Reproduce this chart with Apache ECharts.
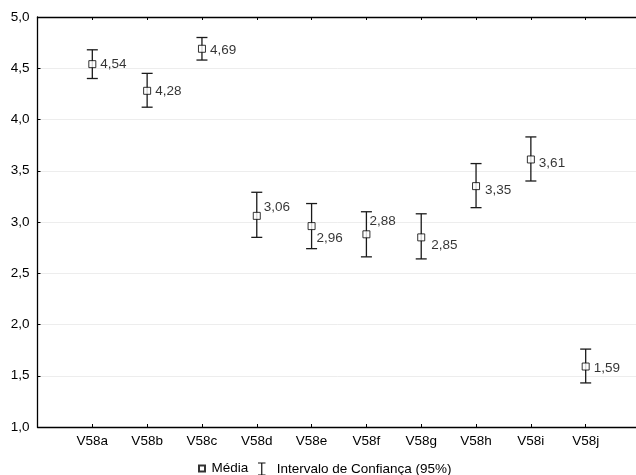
<!DOCTYPE html>
<html>
<head>
<meta charset="utf-8">
<script src="https://cdn.jsdelivr.net/npm/echarts@6/dist/echarts.min.js"></script>
<style>html,body{margin:0;padding:0;background:#fff}#c{width:636px;height:475px}</style>
</head>
<body>
<div id="c"></div>
<script>
// ---- data ----
const categories = ['V58a','V58b','V58c','V58d','V58e','V58f','V58g','V58h','V58i','V58j'];
const means      = [4.54, 4.28, 4.69, 3.06, 2.96, 2.88, 2.85, 3.35, 3.61, 1.59];
const ciLow      = [4.40, 4.12, 4.58, 2.85, 2.74, 2.66, 2.64, 3.14, 3.40, 1.43];
const ciHigh     = [4.68, 4.45, 4.80, 3.29, 3.18, 3.10, 3.08, 3.57, 3.83, 1.76];
const yTicks     = [1.0, 1.5, 2.0, 2.5, 3.0, 3.5, 4.0, 4.5, 5.0];
const seriesNames = ['Média', 'Intervalo de Confiança (95%)'];

// ---- layout (label nudges, px) ----
const labelNudge = [[0,0],[0,0],[0,2],[-1,-9],[-3,12],[-5,-13],[2,8],[1,4],[0,4],[0,2]];

const FONT = 'Arial, "Liberation Sans", sans-serif';
const FS = 13.5;
const fmt1 = v => v.toFixed(1).replace('.', ',');
const fmt2 = v => v.toFixed(2).replace('.', ',');
const axisCats = [''].concat(categories, ['']);

const chart = echarts.init(document.getElementById('c'), null, {renderer: 'canvas'});
chart.setOption({
  animation: false,
  backgroundColor: '#fff',
  textStyle: {fontFamily: FONT},
  grid: {left: 37.5, top: 17, width: 603, height: 410, containLabel: false, outerBoundsMode: 'none'},
  legend: [
    {data: [{name: seriesNames[0], icon: 'rect'}], left: 193, top: 456.5,
     itemWidth: 6, itemHeight: 6, itemGap: 4,
     textStyle: {fontFamily: FONT, fontSize: FS, color: '#000', padding: [0,0,0,1.5]}},
    {data: [{name: seriesNames[1], icon: 'path://M0,0 L10,0 M5,0 L5,16 M0,16 L10,16'}], left: 250.5, top: 455.5,
     itemWidth: 8, itemHeight: 12, itemGap: 4,
     itemStyle: {color: 'none', borderColor: '#111', borderWidth: 1.2},
     textStyle: {fontFamily: FONT, fontSize: FS, color: '#000', padding: [0,0,0,6]}}
  ],
  xAxis: [
    {type: 'category', data: axisCats, boundaryGap: false, position: 'bottom',
     axisLine: {lineStyle: {color: '#000', width: 1.3}},
     axisTick: {inside: true, length: 3, lineStyle: {color: '#000'}},
     axisLabel: {color: '#000', fontSize: FS, fontFamily: FONT, margin: 7, interval: 0},
     splitLine: {show: false}},
    {type: 'category', data: axisCats, boundaryGap: false, position: 'top',
     axisLine: {lineStyle: {color: '#000', width: 1.3}},
     axisTick: {inside: true, length: 3, lineStyle: {color: '#000'}},
     axisLabel: {show: false}, splitLine: {show: false}}
  ],
  yAxis: {
    type: 'value', min: yTicks[0], max: yTicks[yTicks.length - 1], interval: yTicks[1] - yTicks[0],
    axisLine: {show: true, lineStyle: {color: '#000', width: 1.3}},
    axisTick: {show: true, inside: true, length: 3, lineStyle: {color: '#000'}},
    axisLabel: {color: '#000', fontSize: FS, fontFamily: FONT, margin: 8, formatter: fmt1},
    splitLine: {show: true, lineStyle: {color: '#ededed', width: 1}}
  },
  series: [
    {
      name: seriesNames[1],
      type: 'custom',
      itemStyle: {color: 'none', borderColor: '#111'},
      data: categories.map((c, i) => [i + 1, ciLow[i], ciHigh[i]]),
      renderItem: function (params, api) {
        const x = api.value(0);
        const lo = api.coord([x, api.value(1)]);
        const hi = api.coord([x, api.value(2)]);
        const hw = 5.5;
        const st = {stroke: '#1a1a1a', lineWidth: 1.3};
        return {type: 'group', children: [
          {type: 'line', shape: {x1: lo[0], y1: lo[1], x2: hi[0], y2: hi[1]}, style: st},
          {type: 'line', shape: {x1: lo[0] - hw, y1: lo[1], x2: lo[0] + hw, y2: lo[1]}, style: st},
          {type: 'line', shape: {x1: hi[0] - hw, y1: hi[1], x2: hi[0] + hw, y2: hi[1]}, style: st}
        ]};
      },
      z: 2
    },
    {
      name: seriesNames[0],
      type: 'scatter',
      symbol: 'rect',
      symbolSize: 7,
      itemStyle: {color: '#fff', borderColor: '#000', borderWidth: 1},
      label: {show: true, position: 'right', distance: 4, color: '#000', fontSize: FS, fontFamily: FONT,
              formatter: p => fmt2(p.value[1])},
      data: means.map((m, i) => ({value: [i + 1, m], label: {offset: labelNudge[i]}})),
      z: 3
    }
  ]
});
</script>
</body>
</html>
